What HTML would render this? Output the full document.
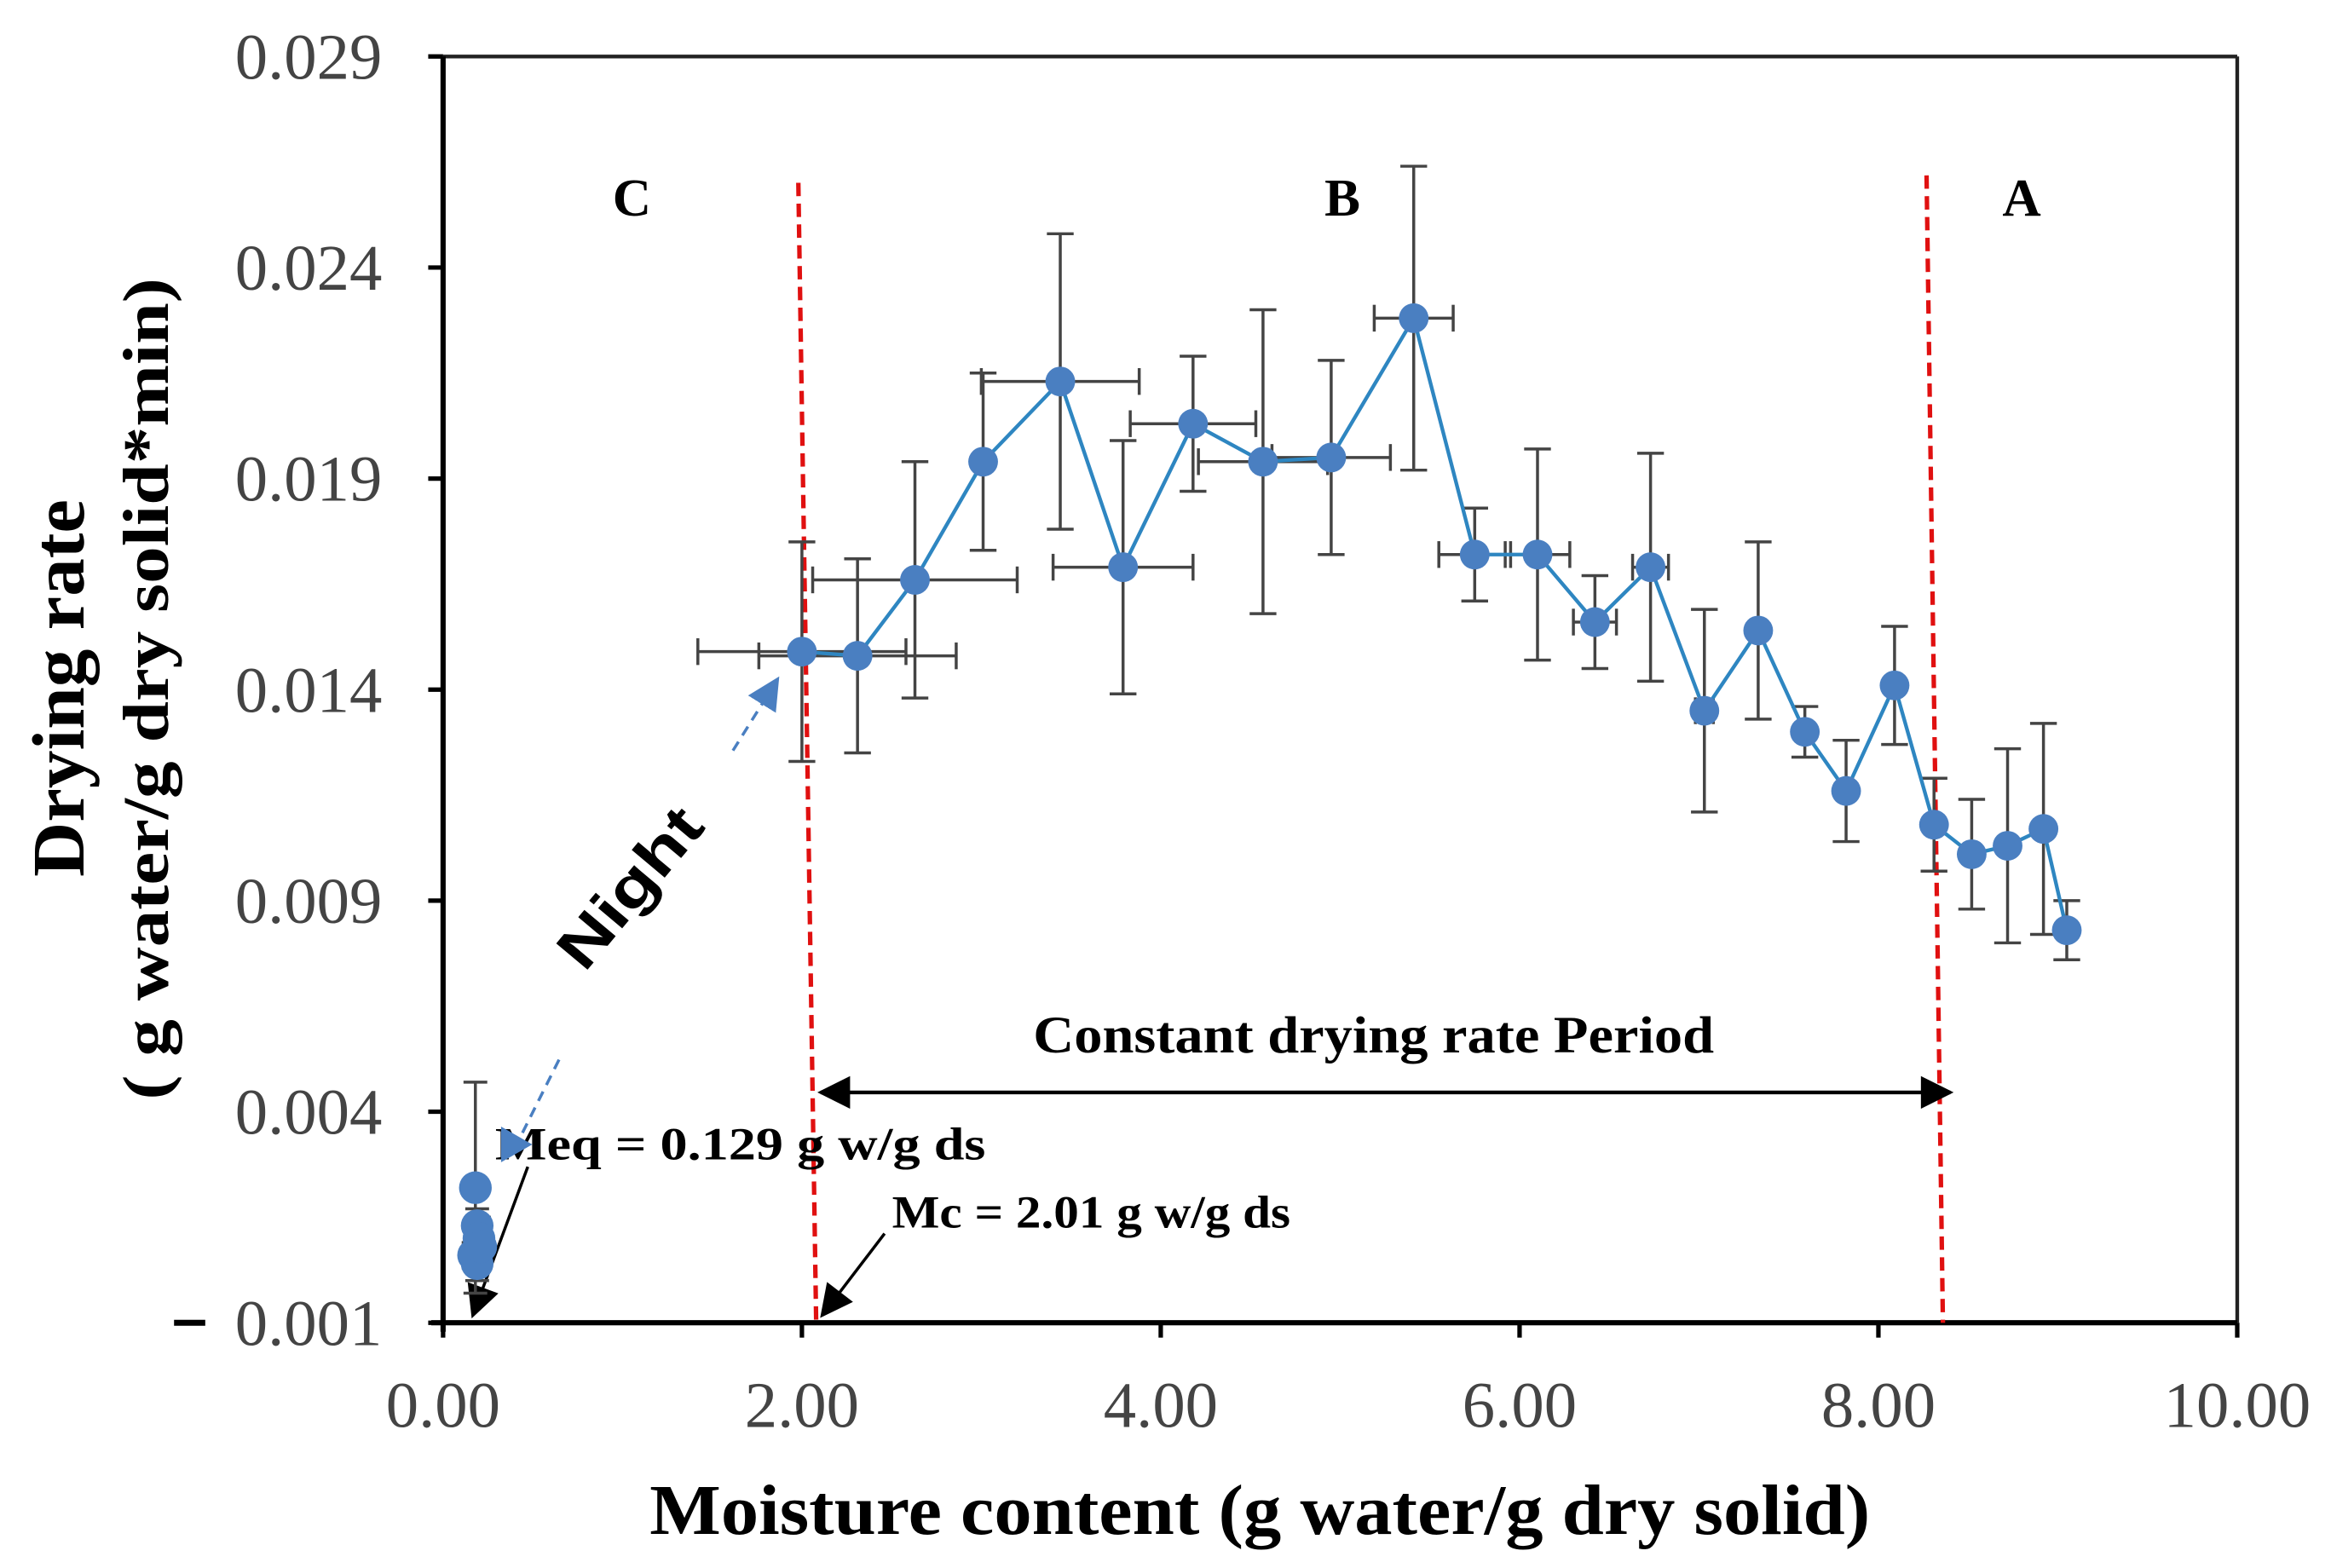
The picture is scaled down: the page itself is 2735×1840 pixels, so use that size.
<!DOCTYPE html>
<html><head><meta charset="utf-8"><style>
html,body{margin:0;padding:0;background:#fff;}
svg{display:block;}
text{font-family:"Liberation Serif",serif;}
</style></head><body>
<svg id="chart" width="2735" height="1840" viewBox="0 0 1568 1055" xmlns="http://www.w3.org/2000/svg">
<defs>
<marker id="abig" viewBox="0 0 10 10" refX="9" refY="5" markerWidth="24" markerHeight="22" orient="auto-start-reverse" markerUnits="userSpaceOnUse"><path d="M0,0 L10,5 L0,10 z" fill="#000"/></marker>
<marker id="bb" viewBox="0 0 10 10" refX="9" refY="5" markerWidth="22" markerHeight="22" orient="auto" markerUnits="userSpaceOnUse"><path d="M0,0 L10,5 L0,10 z" fill="#4a7fc1"/></marker>
</defs>
<g id="frame">
<line x1="298" y1="38" x2="1505" y2="38" stroke="#222" stroke-width="2.5"/>
<line x1="1505" y1="38" x2="1505" y2="890" stroke="#222" stroke-width="2.5"/>
<line x1="298" y1="38" x2="298" y2="896" stroke="#000" stroke-width="3.5"/>
<line x1="290" y1="890" x2="1505" y2="890" stroke="#000" stroke-width="3.5"/>
</g>
<g id="ticks"></g>
<g id="annot">
<line x1="537" y1="123" x2="549" y2="890" stroke="#e01010" stroke-width="3" stroke-dasharray="9,5"/>
<line x1="1296" y1="118" x2="1307" y2="890" stroke="#e01010" stroke-width="3" stroke-dasharray="9,5"/>
<text x="425" y="145" font-size="36" font-weight="bold" text-anchor="middle">C</text>
<text x="903" y="145" font-size="36" font-weight="bold" text-anchor="middle">B</text>
<text x="1360" y="145" font-size="36" font-weight="bold" text-anchor="middle">A</text>
<line x1="552" y1="735" x2="1312" y2="735" stroke="#000" stroke-width="2.5" marker-start="url(#abig)" marker-end="url(#abig)"/>
<text x="695" y="708" font-size="35" font-weight="bold" textLength="458" lengthAdjust="spacingAndGlyphs">Constant drying rate Period</text>
<text x="333" y="780" font-size="31" font-weight="bold" textLength="330" lengthAdjust="spacingAndGlyphs">Meq = 0.129 g w/g ds</text>
<text x="600" y="826" font-size="31" font-weight="bold" textLength="268" lengthAdjust="spacingAndGlyphs">Mc = 2.01 g w/g ds</text>
<line x1="355" y1="785" x2="318" y2="885" stroke="#000" stroke-width="2" marker-end="url(#abig)"/>
<line x1="595" y1="830" x2="553" y2="885" stroke="#000" stroke-width="2" marker-end="url(#abig)"/>
<text transform="translate(393,655) rotate(-50)" font-size="40" font-weight="bold" textLength="128" lengthAdjust="spacingAndGlyphs" style="font-family:'Liberation Sans',sans-serif">Night</text>
<line x1="493" y1="505" x2="523" y2="457" stroke="#4a7fc1" stroke-width="2" stroke-dasharray="7,5" marker-end="url(#bb)"/>
<line x1="376" y1="713" x2="350" y2="765" stroke="#4a7fc1" stroke-width="2" stroke-dasharray="7,5"/>
<path d="M337,758 L358,770 L337,782 z" fill="#4a7fc1"/>
</g>
<g id="series"></g>
<text x="437" y="1032" font-size="48" font-weight="bold" textLength="821" lengthAdjust="spacingAndGlyphs">Moisture content (g water/g dry solid)</text>
<g>
<text transform="translate(56,590) rotate(-90)" font-size="50" font-weight="bold" textLength="254" lengthAdjust="spacingAndGlyphs">Drying rate</text>
<text transform="translate(113,740) rotate(-90)" font-size="44" font-weight="bold" textLength="553" lengthAdjust="spacingAndGlyphs">( g water/g dry solid*min)</text>
</g>
</svg>
<script>
const xTicks=[0,2,4,6,8,10];
const xTickLabels=["0.00","2.00","4.00","6.00","8.00","10.00"];
const yTicks=[-0.001,0.004,0.009,0.014,0.019,0.024,0.029];
const yTickLabels=["0.001","0.004","0.009","0.014","0.019","0.024","0.029"];
const moisture=[2.00,2.31,2.63,3.01,3.44,3.79,4.18,4.57,4.95,5.41,5.75,6.10,6.42,6.73,7.03,7.33,7.59,7.82,8.09,8.31,8.52,8.72,8.92,9.05];
const rate=[0.0149,0.0148,0.0166,0.0194,0.0213,0.0169,0.0203,0.0194,0.0195,0.0228,0.0172,0.0172,0.0156,0.0169,0.0135,0.0154,0.0130,0.0116,0.0141,0.0108,0.0101,0.0103,0.0107,0.0083];
const rateErr=[0.0026,0.0023,0.0028,0.0021,0.0035,0.0030,0.0016,0.0036,0.0023,0.0036,0.0011,0.0025,0.0011,0.0027,0.0024,0.0021,0.0006,0.0012,0.0014,0.0011,0.0013,0.0023,0.0025,0.0007];
const moistErr=[0.58,0.55,0.57,0,0.44,0.39,0.35,0.36,0.33,0.22,0.20,0.18,0.12,0.10,0.05,0,0,0,0,0,0,0,0,0];
const nightMoisture=[0.18,0.19,0.20,0.17,0.19,0.21];
const nightRate=[0.0022,0.0013,0.0010,0.0006,0.0004,0.0008];
const nightErr=[0.0025,0.0004,0.0005,0.0003,0.0004,0.0004];

const NS="http://www.w3.org/2000/svg";
const X0=298,X1=1505,Y0=890,Y1=38;
function sx(v){return X0+(v-0)/(10-0)*(X1-X0);}
function sy(v){return Y0-(v-(-0.001))/(0.029-(-0.001))*(Y0-Y1);}
function mk(tag,attrs,parent){const e=document.createElementNS(NS,tag);for(const k in attrs)e.setAttribute(k,attrs[k]);parent.appendChild(e);return e;}
const tg=document.getElementById('ticks');
xTicks.forEach((v,i)=>{
  const l=mk('line',{x1:sx(v),y1:890,x2:sx(v),y2:900,stroke:'#000','stroke-width':3},tg);
  
  
  const t=mk('text',{x:sx(v),y:960,'font-size':44,'text-anchor':'middle',fill:'#444'},tg);
  t.textContent=xTickLabels[i];
  
  
});
yTicks.forEach((v,i)=>{
  const l=mk('line',{x1:288,y1:sy(v),x2:298,y2:sy(v),stroke:'#000','stroke-width':3},tg);
  
  
  const t=mk('text',{x:257,y:sy(v)+15,'font-size':44,'text-anchor':'end',fill:'#444'},tg);
  t.textContent=yTickLabels[i];
  
  
  if(v<0){const m=mk('line',{x1:117,y1:sy(v),x2:138,y2:sy(v),stroke:'#000','stroke-width':4},tg);
    
    }
});
const sg=document.getElementById('series');
function errBars(xs,ys,ye,xe,cap){
  xs.forEach((x,i)=>{
    const cx=sx(x),cy=sy(ys[i]);
    const top=sy(ys[i]+ye[i]),bot=sy(ys[i]-ye[i]);
    const g=mk('g',{stroke:'#444','stroke-width':2},sg);
    
    
    mk('line',{x1:cx,y1:top,x2:cx,y2:bot},g);
    mk('line',{x1:cx-cap,y1:top,x2:cx+cap,y2:top},g);
    mk('line',{x1:cx-cap,y1:bot,x2:cx+cap,y2:bot},g);
    if(xe&&xe[i]>0){
      const l=sx(x-xe[i]),r=sx(x+xe[i]);
      mk('line',{x1:l,y1:cy,x2:r,y2:cy},g);
      mk('line',{x1:l,y1:cy-cap,x2:l,y2:cy+cap},g);
      mk('line',{x1:r,y1:cy-cap,x2:r,y2:cy+cap},g);
    }
  });
}
errBars(moisture,rate,rateErr,moistErr,9);
errBars(nightMoisture,nightRate,nightErr,null,8);
const line=mk('polyline',{points:moisture.map((x,i)=>sx(x)+','+sy(rate[i])).join(' '),fill:'none',stroke:'#2e86c1','stroke-width':2.5},sg);


moisture.forEach((x,i)=>{
  const c=mk('circle',{cx:sx(x),cy:sy(rate[i]),r:10,fill:'#4a7fc1'},sg);
  
  
});
nightMoisture.forEach((x,i)=>{
  const c=mk('circle',{cx:sx(x),cy:sy(nightRate[i]),r:11,fill:'#4a7fc1'},sg);
  
  
});
</script>
</body></html>
